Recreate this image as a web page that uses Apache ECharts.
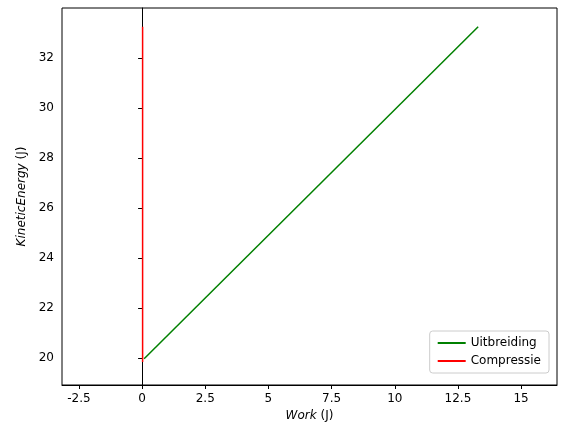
<!DOCTYPE html><html><head><meta charset="utf-8"><script src="https://cdn.jsdelivr.net/npm/echarts@6/dist/echarts.min.js"></script></head><body style="margin:0"><div id="c" style="width:567px;height:436px"></div><script>
const uitbreidingW=[0.08,13.3];
const uitbreidingKE=[19.97,33.25];
const compressieW=[0.02,0.02];
const compressieKE=[19.84,33.25];
const xTicks=[-2.5,0,2.5,5,7.5,10,12.5,15];
const yTicks=[20,22,24,26,28,30,32];
const ch=echarts.init(document.getElementById('c'));
const f='DejaVu Sans';
ch.setOption({animation:false,
grid:{left:62,right:10,top:8,bottom:51,show:true,borderColor:'#000',borderWidth:1},
xAxis:{type:'value',min:-3.17,max:16.42,splitLine:{show:false},
 axisLine:{onZero:false,lineStyle:{color:'#000'}},
 axisTick:{customValues:xTicks,length:4,inside:false,lineStyle:{color:'#000'}},
 axisLabel:{customValues:xTicks,color:'#000',fontFamily:f,fontSize:12,formatter:v=>String(v)},
 name:'{i|Work} (J)',nameLocation:'middle',nameGap:25,nameTextStyle:{color:'#000',fontFamily:f,fontSize:12,rich:{i:{fontStyle:'italic',fontFamily:f,fontSize:12}}}},
yAxis:{type:'value',min:18.92,max:34.0,splitLine:{show:false},
 axisLine:{show:true,lineStyle:{color:'#000'}},
 axisTick:{show:true,customValues:yTicks,length:4,lineStyle:{color:'#000'}},
 axisLabel:{customValues:yTicks,color:'#000',fontFamily:f,fontSize:12},
 name:'{i|KineticEnergy} (J)',nameLocation:'middle',nameGap:33,nameTextStyle:{color:'#000',fontFamily:f,fontSize:12,rich:{i:{fontStyle:'italic',fontFamily:f,fontSize:12}}}},
legend:{right:18,bottom:63,orient:'vertical',backgroundColor:'#fff',borderColor:'#ccc',borderWidth:1,borderRadius:3,padding:[6,8],itemGap:6,itemWidth:28,itemHeight:2,icon:'rect',textStyle:{fontFamily:f,fontSize:12,color:'#000'},
 data:['Uitbreiding','Compressie']},
series:[
 {name:'Uitbreiding',type:'line',data:uitbreidingW.map((w,i)=>[w,uitbreidingKE[i]]),showSymbol:false,lineStyle:{color:'green',width:1.5},itemStyle:{color:'green'}},
 {name:'Compressie',type:'line',data:compressieW.map((w,i)=>[w,compressieKE[i]]),showSymbol:false,lineStyle:{color:'red',width:1.5},itemStyle:{color:'red'}}
]});
</script></body></html>
